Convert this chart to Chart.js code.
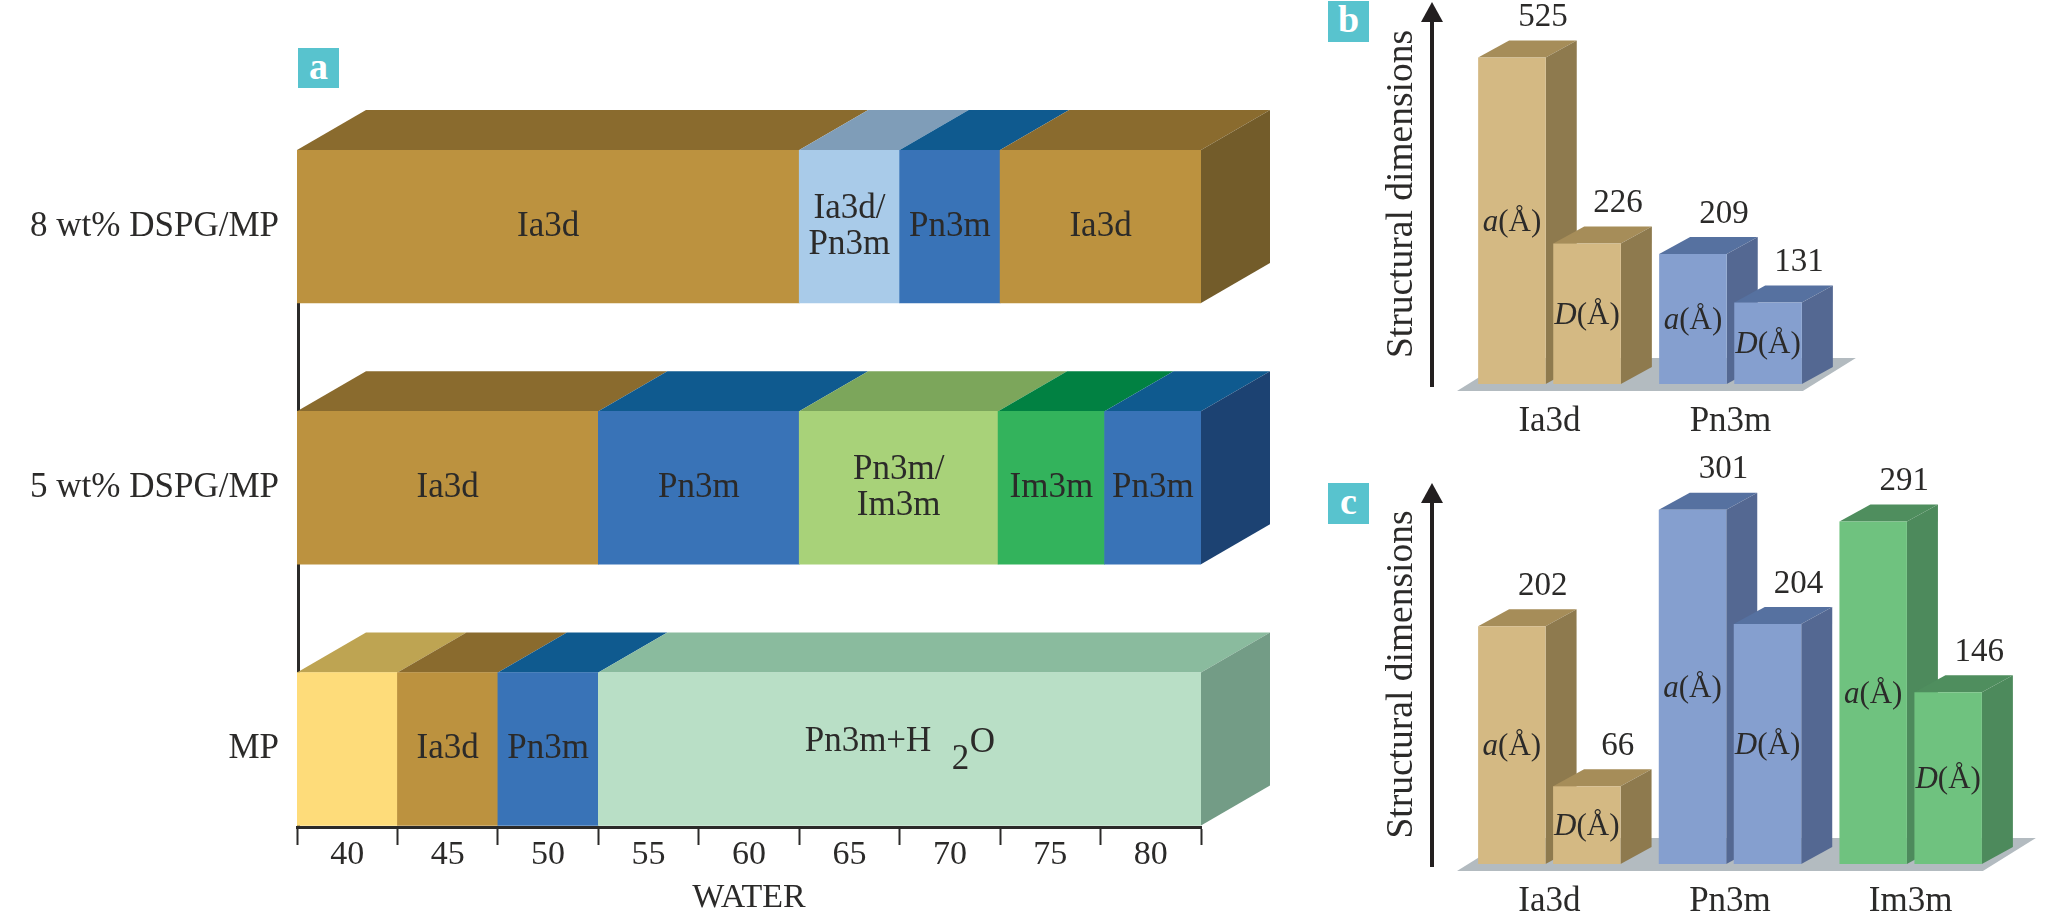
<!DOCTYPE html>
<html>
<head>
<meta charset="utf-8">
<title>Phase diagrams and structural dimensions</title>
<script src="https://cdn.jsdelivr.net/npm/chart.js@4/dist/chart.umd.min.js"></script>
<style>
    html, body { margin: 0; padding: 0; background: #fff; width: 2051px; height: 913px; overflow: hidden; }
    canvas { position: absolute; }
    #chart-a { left: 0; top: 0; }
    #chart-b { left: 1320px; top: 0; }
    #chart-c { left: 1320px; top: 450px; }
    .badge { position: absolute; width: 41px; height: 41px; background: #58c3ce; color: #fff;
             font: bold 38px/36px 'Liberation Serif', serif; text-align: center; }
</style>
</head>
<body>
<div class="badge" style="left:298px; top:48px; height:40px;">a</div>
<div class="badge" style="left:1328px; top:1px;">b</div>
<div class="badge" style="left:1328px; top:483px;">c</div>
<canvas id="chart-a" width="1300" height="913"></canvas>
<canvas id="chart-b" width="731" height="450"></canvas>
<canvas id="chart-c" width="731" height="463"></canvas>
<script>
// --- DATA ---
const waterTicks = ['40', '45', '50', '55', '60', '65', '70', '75', '80'];
const rowNames = ['MP', '5 wt% DSPG/MP', '8 wt% DSPG/MP'];

const mpEdges = [37.5, 42.5, 47.5, 52.5, 82.5];
const mpPhases = ['', 'Ia3d', 'Pn3m', 'Pn3m+H2O'];
const dspg5Edges = [37.5, 52.5, 62.5, 72.4, 77.7, 82.5];
const dspg5Phases = ['Ia3d', 'Pn3m', 'Pn3m/Im3m', 'Im3m', 'Pn3m'];
const dspg8Edges = [37.5, 62.5, 67.5, 72.5, 82.5];
const dspg8Phases = ['Ia3d', 'Ia3d/Pn3m', 'Pn3m', 'Ia3d'];

const bCategories = ['Ia3d', 'Pn3m'];
const bLatticeA = [525, 209];
const bSpacingD = [226, 131];

const cCategories = ['Ia3d', 'Pn3m', 'Im3m'];
const cLatticeA = [202, 301, 291];
const cSpacingD = [66, 204, 146];

// --- STYLES ---
const SERIF = "'Liberation Serif', serif";
const INK = '#2b2a29';
Chart.defaults.font.family = SERIF;
Chart.defaults.color = INK;
Chart.defaults.animation = false;

const phaseColors = {
    '':          { front: '#fedc7a', top: '#bea452', side: '#a08a45' },
    'Ia3d':      { front: '#bc923f', top: '#8a6b2e', side: '#735c2a' },
    'Pn3m':      { front: '#3973b7', top: '#0f5a8f', side: '#1c4272' },
    'Ia3d/Pn3m': { front: '#a9cbe9', top: '#7f9db8', side: '#7f9db8' },
    'Pn3m/Im3m': { front: '#a8d279', top: '#7ca65b', side: '#7ca65b' },
    'Im3m':      { front: '#33b35c', top: '#018142', side: '#018142' },
    'Pn3m+H2O':  { front: '#b9dfc6', top: '#8abb9e', side: '#739c86' }
};

const barColors = {
    'Ia3d': { front: '#d4b983', top: '#a68d59', side: '#8e7a4e' },
    'Pn3m': { front: '#859fcf', top: '#5671a0', side: '#546892' },
    'Im3m': { front: '#6fc27f', top: '#4f8e5e', side: '#4d8a5c' }
};

function polygon(ctx, points, fill) {
    ctx.beginPath();
    points.forEach(([x, y], i) => (i ? ctx.lineTo(x, y) : ctx.moveTo(x, y)));
    ctx.closePath();
    ctx.fillStyle = fill;
    ctx.fill();
}

function segments(edges) {
    return edges.slice(1).map((end, i) => [edges[i], end]);
}

// --- 1. PHASE BANDS (PANEL a) ---
const BAND_DX = 69, BAND_DY = 40;

function drawPhaseLabel(ctx, label, cx, cy) {
    ctx.fillStyle = INK;
    ctx.textBaseline = 'middle';
    if (label === 'Pn3m+H2O') {
        // subscript sits apart from the H in the original
        ctx.textAlign = 'left';
        ctx.font = `35px ${SERIF}`;
        ctx.fillText('Pn3m+H', cx - 95, cy - 7);
        ctx.fillText('2', cx + 52, cy + 11);
        ctx.fillText('O', cx + 70, cy - 6);
        return;
    }
    ctx.textAlign = 'center';
    ctx.font = `35px ${SERIF}`;
    const lines = label.replace('/', '/\n').split('\n');
    lines.forEach((line, i) => ctx.fillText(line, cx, cy + (i - (lines.length - 1) / 2) * 36));
}

const bandFaces = {
    id: 'bandFaces',
    beforeDatasetsDraw(chart) {
        // vertical axis line, only seen in the gaps between the bands
        const ctx = chart.ctx;
        const area = chart.chartArea;
        ctx.save();
        ctx.strokeStyle = INK;
        ctx.lineWidth = 3;
        ctx.beginPath();
        ctx.moveTo(area.left + 1.5, area.top);
        ctx.lineTo(area.left + 1.5, area.bottom);
        ctx.stroke();
        ctx.restore();
    },
    beforeDatasetDraw(chart, args) {
        const ctx = chart.ctx;
        const phases = chart.data.datasets[args.index].phases;
        args.meta.data.forEach((bar, i) => {
            const colors = phaseColors[phases[i]];
            const top = bar.y - bar.height / 2;
            polygon(ctx, [[bar.base, top], [bar.x, top], [bar.x + BAND_DX, top - BAND_DY], [bar.base + BAND_DX, top - BAND_DY]], colors.top);
            if (i === phases.length - 1) {
                const bottom = bar.y + bar.height / 2;
                polygon(ctx, [[bar.x, top], [bar.x + BAND_DX, top - BAND_DY], [bar.x + BAND_DX, bottom - BAND_DY], [bar.x, bottom]], colors.side);
            }
        });
    },
    afterDatasetsDraw(chart) {
        chart.data.datasets.forEach((ds, d) => {
            chart.getDatasetMeta(d).data.forEach((bar, i) => {
                drawPhaseLabel(chart.ctx, ds.phases[i], (bar.base + bar.x) / 2, bar.y);
            });
        });
    }
};

function bandDataset(edges, phases, row) {
    return {
        xAxisID: 'xv',
        yAxisID: 'y',
        phases,
        data: segments(edges).map(span => ({ x: span, y: row })),
        backgroundColor: phases.map(p => phaseColors[p].front),
        barThickness: 153,
        grouped: false
    };
}

new Chart(document.getElementById('chart-a'), {
    type: 'bar',
    plugins: [bandFaces],
    data: {
        datasets: [
            bandDataset(dspg8Edges, dspg8Phases, 2),
            bandDataset(dspg5Edges, dspg5Phases, 1),
            bandDataset(mpEdges, mpPhases, 0)
        ]
    },
    options: {
        indexAxis: 'y',
        responsive: false,
        layout: { padding: { top: 150, right: 99 } },
        plugins: { legend: { display: false }, tooltip: { enabled: false } },
        scales: {
            xv: { type: 'linear', axis: 'x', position: 'bottom', display: false, min: 37.5, max: 82.5 },
            x: {
                type: 'category',
                position: 'bottom',
                labels: waterTicks,
                offset: true,
                afterFit: s => { s.height = 86; },
                grid: { offset: true, drawOnChartArea: false, tickLength: 18, tickWidth: 2, tickColor: '#2b2a29' },
                border: { color: '#2b2a29', width: 3 },
                ticks: { font: { size: 34 }, color: INK, padding: -10, maxRotation: 0, autoSkip: false },
                title: { display: true, text: 'WATER', font: { size: 34, lineHeight: 1 }, color: INK, padding: { top: 0, bottom: -2 } }
            },
            y: {
                type: 'linear',
                position: 'left',
                min: -0.2986,
                max: 2.2926,
                offset: false,
                afterFit: s => { s.width = 297; },
                afterBuildTicks: s => { s.ticks = rowNames.map((_, i) => ({ value: i })); },
                grid: { display: false, offset: false },
                border: { display: false },
                ticks: { font: { size: 35 }, color: INK, padding: 10, callback: v => rowNames[v] }
            }
        }
    }
});

// --- 2. DIMENSION BARS (PANELS b, c) ---
const BAR_DX = 31, BAR_DY = 17;

const barFaces = {
    id: 'barFaces',
    beforeDatasetsDraw(chart) {
        const ctx = chart.ctx;
        const area = chart.chartArea;
        const base = chart.scales.y.getPixelForValue(0);
        const metas = chart.getDatasetMeta(1).data;
        const left = area.left - 2;
        const right = metas[metas.length - 1].x + metas[metas.length - 1].width / 2 + 1;
        polygon(ctx, [[left, base + 7], [right, base + 7], [right + 53, base - 26], [left + 53, base - 26]], '#b3bbc0');

        // rising arrow beside the title
        const ax = area.left - 27;
        ctx.strokeStyle = '#231f20';
        ctx.lineWidth = 4;
        ctx.beginPath();
        ctx.moveTo(ax, area.bottom + 3);
        ctx.lineTo(ax, area.top + 15);
        ctx.stroke();
        polygon(ctx, [[ax, area.top - 2], [ax + 11, area.top + 18], [ax - 11, area.top + 18]], '#231f20');

        // depth faces go down first: the D bar front then sits over the a bar side
        chart.data.datasets.forEach((ds, d) => {
            chart.getDatasetMeta(d).data.forEach((bar, i) => {
                const colors = barColors[chart.data.labels[i]];
                const l = bar.x - bar.width / 2, r = bar.x + bar.width / 2;
                polygon(ctx, [[l, bar.y], [r, bar.y], [r + BAR_DX, bar.y - BAR_DY], [l + BAR_DX, bar.y - BAR_DY]], colors.top);
                polygon(ctx, [[r, bar.y], [r + BAR_DX, bar.y - BAR_DY], [r + BAR_DX, bar.base - BAR_DY], [r, bar.base]], colors.side);
            });
        });
    },
    afterDatasetsDraw(chart) {
        const ctx = chart.ctx;
        chart.data.datasets.forEach((ds, d) => {
            chart.getDatasetMeta(d).data.forEach((bar, i) => {
                ctx.fillStyle = INK;
                ctx.textBaseline = 'middle';
                ctx.textAlign = 'center';
                ctx.font = `33px ${SERIF}`;
                ctx.fillText(String(ds.data[i]), bar.x + 31, bar.y - 40);

                // inner label: italic symbol plus upright unit
                const unit = '(Å)';
                ctx.textAlign = 'left';
                ctx.font = `italic 31px ${SERIF}`;
                const symbolWidth = ctx.measureText(ds.symbol).width;
                ctx.font = `31px ${SERIF}`;
                const unitWidth = ctx.measureText(unit).width;
                const cy = (bar.y + bar.base) / 2 + 2;
                const x0 = bar.x - (symbolWidth + unitWidth) / 2;
                ctx.font = `italic 31px ${SERIF}`;
                ctx.fillText(ds.symbol, x0, cy);
                ctx.font = `31px ${SERIF}`;
                ctx.fillText(unit, x0 + symbolWidth, cy);
            });
        });
    }
};

function barPanel(id, categories, latticeA, spacingD, view) {
    const fronts = categories.map(c => barColors[c].front);
    new Chart(document.getElementById(id), {
        type: 'bar',
        plugins: [barFaces],
        data: {
            labels: categories,
            datasets: [
                { symbol: 'a', data: latticeA, backgroundColor: fronts },
                { symbol: 'D', data: spacingD, backgroundColor: fronts }
            ]
        },
        options: {
            responsive: false,
            categoryPercentage: 0.83,
            barPercentage: 0.9,
            layout: { padding: { top: view.top, right: view.right } },
            plugins: { legend: { display: false }, tooltip: { enabled: false } },
            scales: {
                x: {
                    afterFit: s => { s.height = view.below; },
                    grid: { display: false },
                    border: { display: false },
                    ticks: { font: { size: 35 }, color: INK, padding: 9, maxRotation: 0 }
                },
                y: {
                    min: 0,
                    max: view.max,
                    afterFit: s => { s.width = 139; },
                    grid: { display: false },
                    border: { display: false },
                    ticks: { display: false },
                    title: {
                        display: true,
                        text: 'Structural dimensions',
                        font: { size: 37.5, lineHeight: 1 },
                        color: INK,
                        padding: { top: 63, bottom: 0 }
                    }
                }
            }
        }
    });
}

barPanel('chart-b', bCategories, bLatticeA, bSpacingD, { top: 4, right: 230, below: 66, max: 611 });
barPanel('chart-c', cCategories, cLatticeA, cSpacingD, { top: 35, right: 50, below: 49, max: 322 });
</script>
</body>
</html>
